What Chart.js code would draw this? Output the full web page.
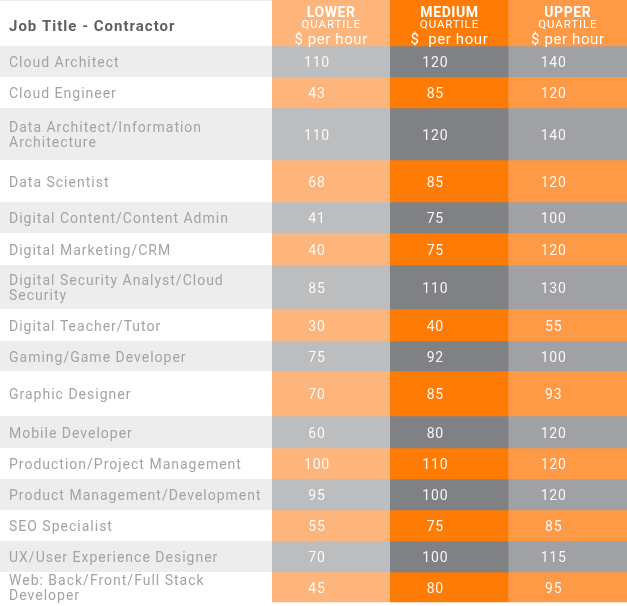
<!DOCTYPE html>
<html>
<head>
<meta charset="utf-8">
<style>
html,body{margin:0;padding:0;background:#ffffff;}
#wrap{width:627px;height:606px;position:relative;}
</style>
<script src="https://cdn.jsdelivr.net/npm/chart.js@4.4.1/dist/chart.umd.min.js"></script>
</head>
<body>
<div id="wrap"><canvas id="c"></canvas></div>
<script>
// ---------- data ----------
const headerTitle = 'Job Title - Contractor';
const quartileNames = ['LOWER', 'MEDIUM', 'UPPER'];
const quartileSub = 'QUARTILE';
const unitLabels = ['$ per hour', '$  per hour', '$ per hour'];
const jobTitles = [
  ['Cloud Architect'],
  ['Cloud Engineer'],
  ['Data Architect/Information', 'Architecture'],
  ['Data Scientist'],
  ['Digital Content/Content Admin'],
  ['Digital Marketing/CRM'],
  ['Digital Security Analyst/Cloud', 'Security'],
  ['Digital Teacher/Tutor'],
  ['Gaming/Game Developer'],
  ['Graphic Designer'],
  ['Mobile Developer'],
  ['Production/Project Management'],
  ['Product Management/Development'],
  ['SEO Specialist'],
  ['UX/User Experience Designer'],
  ['Web: Back/Front/Full Stack', 'Developer']
];
const lowerQuartile  = [110, 43, 110, 68, 41, 40, 85, 30, 75, 70, 60, 100, 95, 55, 70, 45];
const mediumQuartile = [120, 85, 120, 85, 75, 75, 110, 40, 92, 85, 80, 110, 100, 75, 100, 80];
const upperQuartile  = [140, 120, 140, 120, 100, 120, 130, 55, 100, 93, 120, 120, 120, 85, 115, 95];

// ---------- layout (row heights in table units, header first) ----------
const rowHeights = [46, 31, 31, 52, 42, 31, 32, 44, 32, 30, 45, 32, 31, 31, 31, 31, 30];
const tableSpan = 606;
const rowStarts = [];
rowHeights.reduce((acc, h) => { rowStarts.push(acc); return acc + h; }, 0);
const rowCenters = rowStarts.map((s, i) => s + rowHeights[i] / 2);

// ---------- styles ----------
const FONT = 'Roboto, "DejaVu Sans", sans-serif';
const orangeSet = ['#fdb57b', '#fe7b06', '#fe9a45'];
const graySet = ['#bcbdbf', '#808184', '#a0a1a4'];
const stripeGray = '#ededed';
const valueSeries = [lowerQuartile, mediumQuartile, upperQuartile];
const tickLabels = [headerTitle].concat(jobTitles);

const datasets = rowHeights.map((h, r) => ({
  label: r === 0 ? headerTitle : jobTitles[r - 1].join(' '),
  data: quartileNames.map(() => [rowStarts[r], rowStarts[r] + h]),
  backgroundColor: (r === 0 || r % 2 === 0) ? orangeSet : graySet,
  borderWidth: 0,
  borderSkipped: false,
  grouped: false,
  categoryPercentage: 1,
  barPercentage: 1
}));

const stripePlugin = {
  id: 'stripes',
  beforeDraw(chart) {
    const ctx = chart.ctx, y = chart.scales.y, left = chart.chartArea.left;
    ctx.save();
    for (let r = 1; r < rowHeights.length; r++) {
      if (r % 2 === 1) {
        const y0 = y.getPixelForValue(rowStarts[r]);
        const y1 = y.getPixelForValue(rowStarts[r] + rowHeights[r]);
        ctx.fillStyle = stripeGray;
        ctx.fillRect(0, y0, left, y1 - y0);
      }
    }
    ctx.fillStyle = '#eeeeee';
    ctx.fillRect(0, y.getPixelForValue(0), left, 1);
    ctx.restore();
    ctx.letterSpacing = '1px';
  }
};

const textPlugin = {
  id: 'cellText',
  afterDatasetsDraw(chart) {
    const ctx = chart.ctx;
    ctx.save();
    ctx.textAlign = 'center';
    ctx.textBaseline = 'middle';
    chart.data.datasets.forEach((ds, r) => {
      const meta = chart.getDatasetMeta(r);
      meta.data.forEach((el, k) => {
        const p = el.getProps(['x', 'y', 'base', 'width'], true);
        const top = Math.min(p.y, p.base), bot = Math.max(p.y, p.base);
        if (r === 0) {
          ctx.fillStyle = '#ffffff';
          ctx.letterSpacing = '0.6px';
          ctx.font = 'bold 14px ' + FONT;
          ctx.fillText(quartileNames[k], p.x, top + 13.5);
          ctx.letterSpacing = '0.9px';
          ctx.font = '11.5px ' + FONT;
          ctx.fillText(quartileSub, p.x, top + 25);
          ctx.letterSpacing = '0.6px';
          ctx.font = '15px ' + FONT;
          ctx.fillText(unitLabels[k], p.x, top + 40);
        } else {
          ctx.fillStyle = 'rgba(255,255,255,0.93)';
          ctx.letterSpacing = '0.8px';
          ctx.font = '14px ' + FONT;
          ctx.fillText(String(valueSeries[k][r - 1]), p.x - p.width * 0.12, (top + bot) / 2 + 2);
        }
      });
    });
    ctx.restore();
  }
};

new Chart(document.getElementById('c'), {
  type: 'bar',
  data: { labels: quartileNames, datasets },
  options: {
    responsive: true,
    maintainAspectRatio: false,
    animation: false,
    layout: { padding: { left: 9, right: 0, top: 0, bottom: 0 } },
    plugins: { legend: { display: false }, tooltip: { enabled: false }, title: { display: false } },
    scales: {
      x: {
        type: 'category',
        display: false,
        offset: true,
        grid: { display: false }
      },
      y: {
        type: 'linear',
        reverse: true,
        min: 0,
        max: tableSpan,
        position: 'left',
        afterFit(scale) {
          scale.width = 263;
          scale.paddingTop = 0;
          scale.paddingBottom = 0;
        },
        afterBuildTicks(scale) {
          scale.ticks = rowCenters.map((v, i) => ({ value: i === 0 ? v + 4 : v + 2 }));
        },
        grid: { display: false, drawTicks: false },
        border: { display: false },
        ticks: {
          autoSkip: false,
          crossAlign: 'far',
          padding: 0,
          callback: (v, i) => tickLabels[i],
          color: ctx => ctx.index === 0 ? '#5f5f5f' : '#a3a3a3',
          font: ctx => ctx.index === 0
            ? { family: FONT, size: 15, weight: 'bold', lineHeight: 1.12 }
            : { family: FONT, size: 14, weight: 'normal', lineHeight: 1.12 }
        }
      }
    }
  },
  plugins: [stripePlugin, textPlugin]
});
</script>
</body>
</html>
